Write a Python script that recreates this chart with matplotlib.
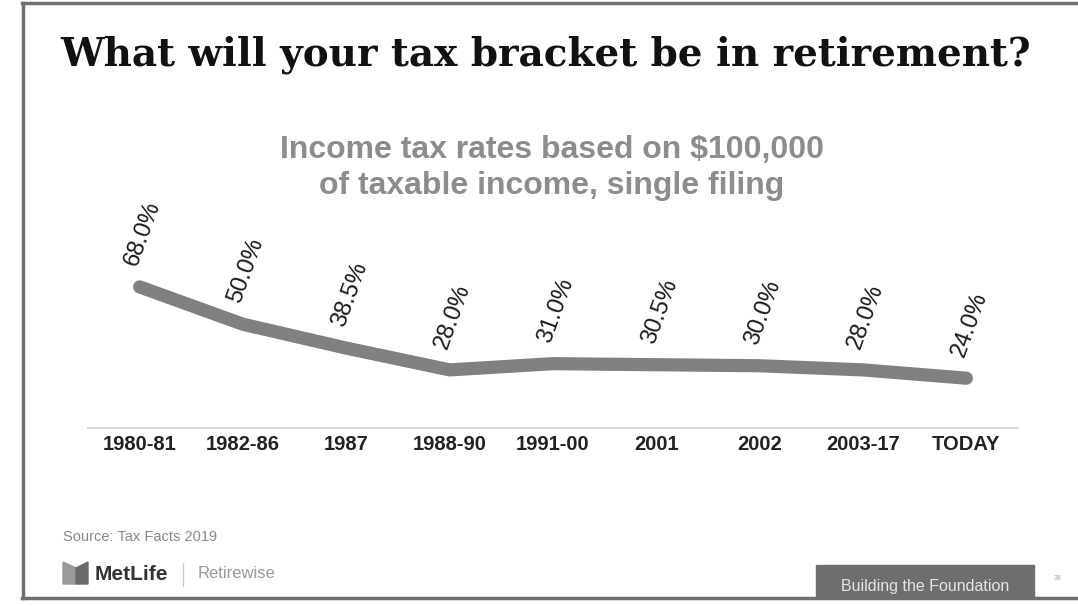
import matplotlib
matplotlib.use("Agg")
import matplotlib.pyplot as plt
from matplotlib.lines import Line2D
from matplotlib.patches import Rectangle, Polygon

periods = ["1980-81", "1982-86", "1987", "1988-90", "1991-00", "2001", "2002", "2003-17", "TODAY"]
rates = [68.0, 50.0, 38.5, 28.0, 31.0, 30.5, 30.0, 28.0, 24.0]
rate_labels = ["68.0%", "50.0%", "38.5%", "28.0%", "31.0%", "30.5%", "30.0%", "28.0%", "24.0%"]

W, H = 1078, 606
fig = plt.figure(figsize=(W / 100, H / 100), dpi=100)
fig.patch.set_facecolor("white")

def fx(px):
    return px / W

def fy(py):
    return 1 - py / H

# slide frame
frame_col = "#6f6f6f"
fig.add_artist(Line2D([fx(23), fx(23)], [fy(3), fy(598)], color=frame_col, lw=2.5))
fig.add_artist(Line2D([fx(22), 1], [fy(3), fy(3)], color=frame_col, lw=2.5))
fig.add_artist(Line2D([fx(22), 1], [fy(598), fy(598)], color=frame_col, lw=2.5))

# titles
fig.text(fx(546), fy(55), "What will your tax bracket be in retirement?", ha="center", va="center",
         fontsize=28, fontweight="bold", family="DejaVu Serif", color="#111111")
fig.text(fx(552), fy(168), "Income tax rates based on $100,000\nof taxable income, single filing",
         ha="center", va="center", fontsize=23, fontweight="bold", family="Liberation Sans",
         color="#8c8c90", linespacing=1.22)

# chart
ax = fig.add_axes([fx(88), fy(428), fx(1018) - fx(88), (428 - 262) / H])
ax.plot(range(len(rates)), rates, color="#808083", lw=9.5, solid_capstyle="round",
        solid_joinstyle="round")
ax.set_xlim(-0.5, len(rates) - 0.5)
ax.set_ylim(0, 80)
for i, (v, lab) in enumerate(zip(rates, rate_labels)):
    ax.annotate(lab, (i, v), xytext=(-6, 16), textcoords="offset points", rotation=70,
                rotation_mode="anchor", ha="left", va="center", fontsize=17,
                family="Liberation Sans", color="#1a1a1a", annotation_clip=False)
for s in ["top", "right", "left"]:
    ax.spines[s].set_visible(False)
ax.spines["bottom"].set_color("#d9d9d9")
ax.spines["bottom"].set_linewidth(1.5)
ax.set_yticks([])
ax.set_xticks(range(len(periods)))
ax.set_xticklabels(periods, fontsize=14.5, fontweight="bold", family="Liberation Sans",
                   color="#222222")
ax.tick_params(axis="x", length=0, pad=5)
ax.patch.set_alpha(0)

# footer
fig.text(fx(63), fy(537), "Source: Tax Facts 2019", ha="left", va="center", fontsize=10.5,
         family="Liberation Sans", color="#888888")
fig.add_artist(Polygon([[fx(63), fy(584)], [fx(63), fy(562)], [fx(76), fy(568)], [fx(76), fy(584)]],
                       closed=True, color="#9a9a9a", transform=fig.transFigure))
fig.add_artist(Polygon([[fx(76), fy(584)], [fx(76), fy(568)], [fx(88), fy(562)], [fx(88), fy(584)]],
                       closed=True, color="#6a6a6a", transform=fig.transFigure))
fig.text(fx(95), fy(574), "MetLife", ha="left", va="center", fontsize=15, fontweight="bold",
         family="Liberation Sans", color="#333333")
fig.add_artist(Line2D([fx(183), fx(183)], [fy(563), fy(586)], color="#cccccc", lw=1))
fig.text(fx(198), fy(574), "Retirewise", ha="left", va="center", fontsize=12,
         family="Liberation Sans", color="#999999")

fig.add_artist(Rectangle((fx(816), fy(598)), fx(1034) - fx(816), (598 - 565) / H,
                         color="#6e6e6e", transform=fig.transFigure))
fig.text(fx(925), fy(586), "Building the Foundation", ha="center", va="center", fontsize=11.5,
         family="Liberation Sans", color="#e6e6e6")
fig.text(fx(1058), fy(578), "38", ha="center", va="center", fontsize=5, family="Liberation Sans",
         color="#aaaaaa")

fig.savefig("out.png", dpi=100, facecolor="white")
